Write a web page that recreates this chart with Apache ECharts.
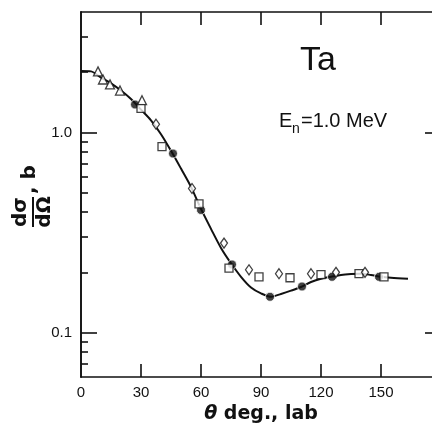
<!DOCTYPE html>
<html>
<head>
<meta charset="utf-8">
<script src="https://cdn.jsdelivr.net/npm/echarts@6/dist/echarts.min.js"></script>
<style>
  html, body { margin: 0; padding: 0; background: #fff; }
  #chart { width: 432px; height: 425px; }
</style>
</head>
<body>
<div id="chart"></div>
<script>
// Elastic scattering angular distribution for Ta at En = 1.0 MeV

// Fitted curve (degrees, barns)
const curveDeg = [0, 5, 10, 15, 20, 25, 30, 35, 40, 45, 50, 55, 60, 65, 70, 75, 80, 85, 90, 95,
                  100, 105, 110, 115, 120, 125, 130, 135, 140, 145, 150, 155, 163.5];
const curveVal = [2.03, 2.02, 1.88, 1.76, 1.62, 1.47, 1.30, 1.15, 0.98, 0.81, 0.66, 0.535, 0.415, 0.33, 0.265, 0.222, 0.19, 0.168, 0.157, 0.151,
                  0.156, 0.162, 0.169, 0.179, 0.186, 0.19, 0.194, 0.196, 0.197, 0.194, 0.19, 0.188, 0.186];

// Measured points, one pair of arrays per data set
const circleDeg = [27, 46, 60, 75.5, 94.5, 110.5, 125.5, 149];
const circleVal = [1.38, 0.785, 0.41, 0.219, 0.151, 0.17, 0.19, 0.19];

const squareDeg = [30, 40.5, 59, 74, 89, 104.5, 120, 139, 151.5];
const squareVal = [1.32, 0.85, 0.44, 0.21, 0.19, 0.188, 0.195, 0.197, 0.19];

const diamondDeg = [37.5, 55.5, 71.5, 84, 99, 115, 127.5, 142];
const diamondVal = [1.10, 0.525, 0.28, 0.206, 0.197, 0.197, 0.20, 0.20];

const triangleDeg = [8.5, 11, 14.5, 19.5, 30.5];
const triangleVal = [2.02, 1.84, 1.74, 1.62, 1.45];

// Axis ticks and labels
const xTickValues = [30, 60, 90, 120, 150];
const xLabelValues = [0, 30, 60, 90, 120, 150];
const yMajorTicks = [0.1, 1];
const yMinorTicks = [0.07, 0.08, 0.09, 0.2, 0.3, 0.4, 0.5, 0.6, 0.7, 0.8, 0.9, 2, 3];
const yLabelValues = [0.1, 1];
const yLabelText = ['0.1', '1.0'];

const pairs = (xs, ys) => xs.map((x, i) => [x, ys[i]]);

const FONT = 'Liberation Sans';
const INK = '#111';
const lineStyle = { color: INK, width: 1.6 };

function xAxis(position, showLabels) {
  return {
    type: 'value', position: position, min: 0, max: 180,
    axisLine: { show: true, lineStyle: lineStyle },
    axisTick: { show: true, inside: true, length: 13, customValues: xTickValues, lineStyle: { color: INK, width: 1.6 } },
    axisLabel: showLabels ? {
      show: true, customValues: xLabelValues, color: INK, fontFamily: FONT, fontSize: 15, margin: 8
    } : { show: false },
    splitLine: { show: false },
    name: showLabels ? '{t|θ} deg., lab' : '',
    nameLocation: 'middle',
    nameGap: 21,
    nameTextStyle: {
      color: INK, fontFamily: 'DejaVu Sans', fontWeight: 'bold', fontSize: 19,
      rich: { t: { fontStyle: 'italic', fontWeight: 'bold', fontFamily: 'DejaVu Sans', fontSize: 19, color: INK } }
    }
  };
}

function yAxis(position, ticks, len, showLabels) {
  return {
    type: 'log', logBase: 10, position: position, min: 0.06, max: 4,
    axisLine: { show: true, lineStyle: lineStyle },
    axisTick: { show: true, inside: true, length: len, customValues: ticks, lineStyle: { color: INK, width: 1.6 } },
    axisLabel: showLabels ? {
      show: true, customValues: yLabelValues, color: INK, fontFamily: FONT, fontSize: 15, margin: 9,
      formatter: v => yLabelText[yLabelValues.findIndex(t => Math.abs(t - v) < 1e-9)]
    } : { show: false },
    splitLine: { show: false },
    minorTick: { show: false }
  };
}

function scatter(name, data, symbol, size, filled) {
  return {
    name: name, type: 'scatter', data: data, symbol: symbol, symbolSize: size, z: 5,
    itemStyle: filled
      ? { color: INK, borderColor: '#fff', borderWidth: 1 }
      : { color: '#fff', borderColor: INK, borderWidth: 1.3 }
  };
}

const chart = echarts.init(document.getElementById('chart'), null, { renderer: 'canvas' });

chart.setOption({
  animation: false,
  backgroundColor: '#fff',
  // the frame runs to 180 degrees, past the right edge of the page
  grid: { left: 81, top: 12, width: 360, height: 365, containLabel: false, outerBoundsMode: 'none' },
  xAxis: [xAxis('bottom', true), xAxis('top', false)],
  yAxis: [
    yAxis('left', yMajorTicks, 16, true),
    yAxis('left', yMinorTicks, 7, false),
    yAxis('right', yMajorTicks, 16, false),
    yAxis('right', yMinorTicks, 7, false)
  ],
  series: [
    {
      name: 'fit', type: 'line', data: pairs(curveDeg, curveVal), smooth: 0.3,
      showSymbol: false, symbol: 'none', z: 2,
      lineStyle: { color: INK, width: 2 }
    },
    scatter('circles', pairs(circleDeg, circleVal), 'circle', 9, true),
    scatter('squares', pairs(squareDeg, squareVal), 'rect', 8, false),
    scatter('diamonds', pairs(diamondDeg, diamondVal), 'diamond', [7, 10], false),
    scatter('triangles', pairs(triangleDeg, triangleVal), 'triangle', 9, false)
  ],
  graphic: [
    {
      type: 'text', x: 300, y: 61,
      style: { text: 'Ta', font: '34px "Liberation Sans"', fill: INK, textAlign: 'left', textVerticalAlign: 'middle' }
    },
    {
      type: 'group', x: 279, y: 121,
      children: [
        { type: 'text', x: 0, y: 0, style: { text: 'E', font: '20px "Liberation Sans"', fill: INK, textVerticalAlign: 'middle' } },
        { type: 'text', x: 13, y: 8, style: { text: 'n', font: '14px "Liberation Sans"', fill: INK, textVerticalAlign: 'middle' } },
        { type: 'text', x: 22, y: 0, style: { text: '=1.0 MeV', font: '20px "Liberation Sans"', fill: INK, textVerticalAlign: 'middle' } }
      ]
    },
    {
      // rotated y-axis title: dσ/dΩ, b
      type: 'group', x: 33, y: 212, rotation: Math.PI / 2,
      children: [
        { type: 'text', x: 0, y: -2, style: { text: 'dσ', font: 'bold 20px "DejaVu Sans"', fill: INK, textAlign: 'center', textVerticalAlign: 'bottom' } },
        { type: 'line', shape: { x1: -15, y1: 0, x2: 15, y2: 0 }, style: { stroke: INK, lineWidth: 2 } },
        { type: 'text', x: 0, y: 2, style: { text: 'dΩ', font: 'bold 20px "DejaVu Sans"', fill: INK, textAlign: 'center', textVerticalAlign: 'top' } },
        { type: 'text', x: 18, y: 7, style: { text: ', b', font: 'bold 20px "DejaVu Sans"', fill: INK, textAlign: 'left', textVerticalAlign: 'bottom' } }
      ]
    }
  ]
});
</script>
</body>
</html>
